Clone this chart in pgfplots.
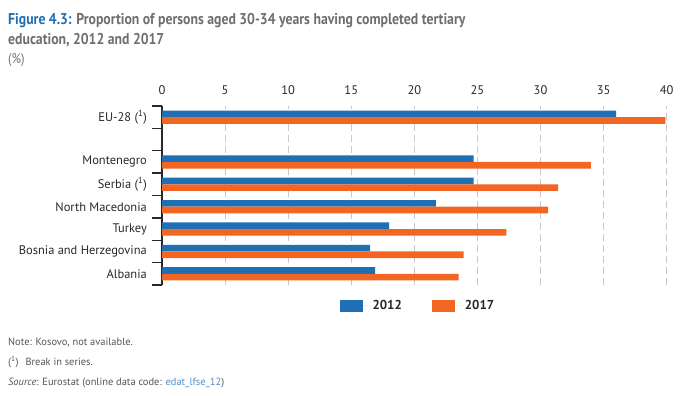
\documentclass[border=0pt]{standalone}
\usepackage{fontspec}
\setmainfont{PT Sans}
\newfontfamily\titlefont[FakeStretch=0.88]{PT Sans}
\usepackage{pgfplots}
\pgfplotsset{compat=1.18}
\definecolor{eublue}{RGB}{31,111,181}
\definecolor{euorange}{RGB}{242,101,34}
\definecolor{titlegray}{RGB}{110,110,110}
\definecolor{txt}{RGB}{40,40,40}
\definecolor{notegray}{RGB}{85,85,85}
\definecolor{linkblue}{RGB}{80,140,200}
\definecolor{gridgray}{RGB}{200,200,200}
\begin{document}
\begin{tikzpicture}
\path[use as bounding box] (0bp,0bp) rectangle (700bp,-396bp);
\node[anchor=base west, inner sep=0, font=\titlefont\bfseries\fontsize{15.7}{18}\selectfont, text=titlegray] at (8bp,-24bp) {\textcolor{eublue}{Figure 4.3:} Proportion of persons aged 30-34 years having completed tertiary};
\node[anchor=base west, inner sep=0, font=\titlefont\bfseries\fontsize{15.7}{18}\selectfont, text=titlegray] at (8bp,-44bp) {education, 2012 and 2017};
\node[anchor=base west, inner sep=0, font=\titlefont\fontsize{14}{16}\selectfont, text=titlegray] at (8bp,-63bp) {(\%)};
\node[anchor=base west, inner sep=0, font=\fontsize{10.5}{12}\selectfont, text=notegray] at (8bp,-345bp) {Note: Kosovo, not available.};
\node[anchor=base west, inner sep=0, font=\fontsize{10.5}{12}\selectfont, text=notegray] at (8bp,-365bp) {(\textsuperscript{1})\hspace{7bp}Break in series.};
\node[anchor=base west, inner sep=0, font=\fontsize{10.5}{12}\selectfont, text=notegray] at (8bp,-385bp) {\textit{Source}: Eurostat (online data code: \textcolor{linkblue}{edat\_lfse\_12})};
\begin{axis}[
  at={(162bp,-285bp)}, anchor=south west,
  scale only axis, width=504.7bp, height=179bp,
  xmin=0, xmax=40, ymin=-0.5, ymax=7.5,
  axis x line*=top, axis y line*=left,
  x axis line style={draw=none},
  y axis line style={-, draw=txt, line width=1.3bp},
  xtick={0,5,...,40},
  xtick style={draw=none},
  /pgf/number format/assume math mode=true,
  xmajorgrids,
  major x grid style={draw=gridgray, line width=1.1bp, dash pattern=on 7bp off 4bp},
  ytick={0,1,2,3,4,5,7},
  yticklabels={Albania,Bosnia and Herzegovina,Turkey,North Macedonia,Serbia (\textsuperscript{1}),Montenegro,EU-28 (\textsuperscript{1})},
  minor ytick={-0.5,0.5,...,7.5},
  tick align=outside,
  major tick length=0pt,
  minor tick length=10bp,
  minor y tick style={draw=txt, line width=1.3bp},
  major y tick style={draw=none},
  yticklabel style={inner sep=0pt, xshift=-15bp, font=\fontsize{12.5}{14}\selectfont, text=txt},
  xticklabel style={inner sep=0pt, yshift=11bp, font=\fontsize{12.5}{14}\selectfont, text=txt},
  legend columns=2,
  legend style={at={(0.507,-0.117)}, anchor=center, draw=none, fill=none,
    font=\bfseries\fontsize{13}{15}\selectfont, text=txt,
    /tikz/every even column/.append style={column sep=28bp}},
  legend image code/.code={\fill[#1] (0bp,-6bp) rectangle (23bp,6bp); \path (0bp,0bp) -- (31bp,0bp);},
]
\addplot[xbar, fill=eublue, draw=none, bar width=6.6bp, bar shift=3.3bp]
  coordinates {(16.9,0) (16.5,1) (18.0,2) (21.7,3) (24.7,4) (24.7,5) (36.0,7)};
\addplot[xbar, fill=euorange, draw=none, bar width=6.6bp, bar shift=-3.3bp]
  coordinates {(23.5,0) (23.9,1) (27.3,2) (30.6,3) (31.4,4) (34.0,5) (39.9,7)};
\legend{2012,2017}
\end{axis}
\end{tikzpicture}
\end{document}
